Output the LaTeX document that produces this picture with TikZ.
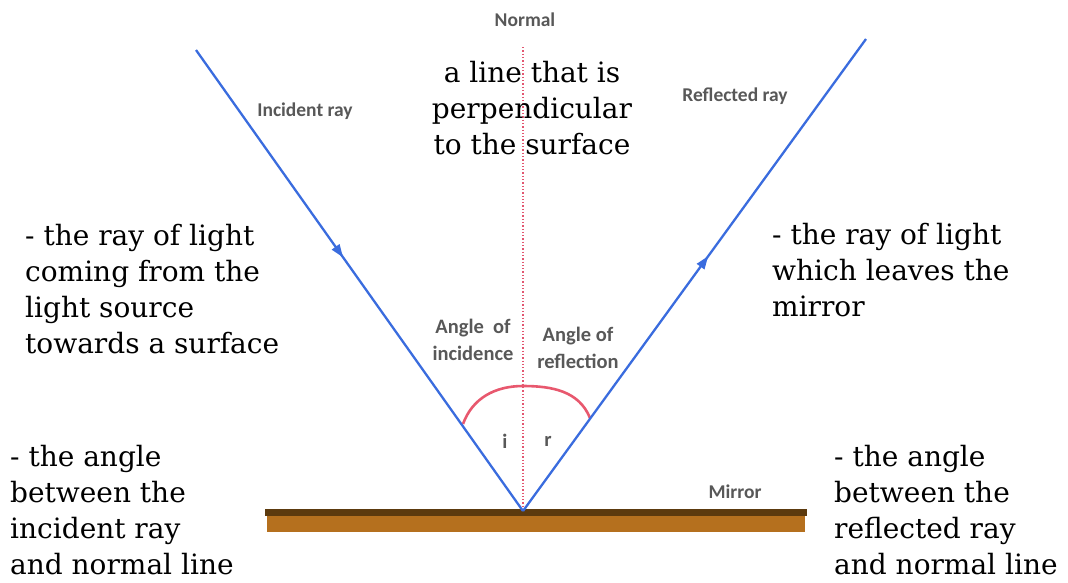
\documentclass[tikz,border=0pt]{standalone}
\usepackage{fontspec}
\setmainfont{DejaVu Serif}
\newfontfamily\lblfont{Carlito}
\usetikzlibrary{decorations.markings,arrows.meta}
\definecolor{raycol}{RGB}{58,108,222}
\definecolor{normcol}{RGB}{226,86,112}
\definecolor{arccol}{RGB}{232,88,110}
\definecolor{mirtop}{RGB}{92,58,14}
\definecolor{mirbody}{RGB}{181,112,30}
\definecolor{lblgray}{RGB}{88,88,88}
\tikzset{
  ray/.style={draw=raycol, line width=2.3pt},
  midarrow/.style={postaction={decorate,decoration={markings,
     mark=at position #1 with {\arrow{Triangle[length=13pt,width=9pt]}}}}},
  lbl/.style={font=\lblfont\bfseries\fontsize{19.5}{22}\selectfont, text=lblgray, inner sep=0pt},
  albl/.style={font=\lblfont\bfseries\fontsize{20.5}{27}\selectfont, text=lblgray, inner sep=0pt, align=center},
  desc/.style={font=\fontsize{28}{36}\selectfont, inner sep=0pt, align=left, anchor=north west},
}
\begin{document}
\begin{tikzpicture}[x=1pt,y=-1pt]
\useasboundingbox (0,0) rectangle (1068,582);
% mirror
\fill[mirbody] (267,515) rectangle (805,532);
\fill[mirtop] (265,509) rectangle (807,516);
% points
\coordinate (I) at (196,50);
\coordinate (O) at (523,511);
\coordinate (R) at (866,39);
\coordinate (N) at (523,47);
\coordinate (A1) at (463,424);
\coordinate (A2) at (523,386);
\coordinate (A3) at (590,418);
% normal
\draw[normcol, line width=1.3pt, dotted] (N) -- (O);
% arc
\draw[arccol, line width=2.6pt] (A1) to[out=70,in=180] (A2) to[out=0,in=112] (A3);
% rays
\draw[ray, midarrow=0.45, raycol] (I) -- (O);
\draw[ray, midarrow=0.54, raycol] (O) -- (R);
% gray labels
\node[lbl] (nlab) at (525,20) {Normal};
\node[lbl] (ilab) at (305,111) {Incident ray};
\node[lbl] (rlab) at (735,96) {Reflected ray};
\node[lbl] (mlab) at (735,492) {Mirror};
\node[albl] (aoi) at (473,340) {Angle\ \ of\\incidence};
\node[albl] (aor) at (578,348) {Angle of\\reflection};
\node[albl] (ilt) at (505,441) {i};
\node[albl] (rlt) at (548,441) {r};
% descriptions
\node[font=\fontsize{28}{36}\selectfont, inner sep=0pt, align=center] (ntext) at (532,108) {a line that is\\perpendicular\\to the surface};
\node[desc] (ldesc) at (25,224) {- the ray of light\\coming from the\\light source\\towards a surface};
\node[desc] (rdesc) at (772,223) {- the ray of light\\which leaves the\\mirror};
\node[desc] (bl) at (10,445) {- the angle\\between the\\incident ray\\and normal line};
\node[desc] (br) at (834,445) {- the angle\\between the\\reflected ray\\and normal line};
\end{tikzpicture}
\end{document}
